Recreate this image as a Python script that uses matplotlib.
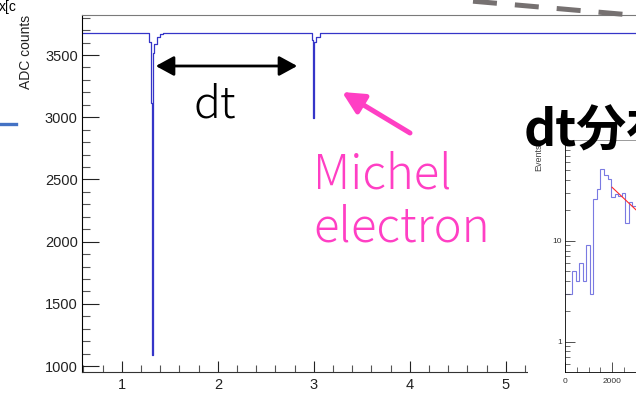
import matplotlib
matplotlib.use('Agg')
import matplotlib.pyplot as plt
from matplotlib.patches import Rectangle, FancyArrowPatch
from matplotlib.lines import Line2D
from matplotlib.ticker import MultipleLocator, FixedLocator, NullFormatter

W, H = 636, 393

# PMT waveform: time [us], ADC counts (steps)
wave_t = [0.585, 1.286, 1.300, 1.311, 1.321, 1.328, 1.335, 1.363, 1.398, 1.432,
          1.600, 2.978, 2.988, 3.002, 3.022, 3.064, 7.500]
wave_adc = [3680, 3607, 3112, 1090, 3112, 3514, 3590, 3647, 3670, 3677,
            3680, 3620, 2993, 3607, 3647, 3680, 3680]
time_ticks = [1, 2, 3, 4, 5]
adc_ticks = [1000, 1500, 2000, 2500, 3000, 3500]

# dt distribution [ns] and counts
dt_edges = [10, 160, 310, 460, 610, 760, 910, 1060, 1210, 1360, 1510,
            1660, 1810, 1960, 2110, 2260, 2410, 2560, 2710, 2860, 3010]
dt_counts = [3, 3, 5, 4, 6, 4, 9, 3, 26, 33, 51, 45, 41, 27, 29, 28, 30, 15, 24, 22]
fit_t = [2000, 3020]
fit_n = [34, 20.3]
dt_ticks = [0, 2000]

ROOT_FONT = ['Liberation Sans', 'DejaVu Sans']
SLIDE_FONT = ['Noto Sans CJK JP', 'DejaVu Sans']
PINK = '#ff3fc4'


def fpos(x, y):
    # pixel (from top-left) -> figure fraction
    return x / W, 1 - y / H


def fbox(x0, y0, x1, y1):
    return [x0 / W, 1 - y1 / H, (x1 - x0) / W, (y1 - y0) / H]


fig = plt.figure(figsize=(W / 100, H / 100), dpi=100)
fig.patch.set_facecolor('white')

# main waveform
ax = fig.add_axes(fbox(82, 15, 700, 372))
ax.plot(wave_t, wave_adc, drawstyle='steps-post', color='#3535c8', lw=0.9)
ax.set_xlim(0.585, 0.585 + 618 / 96)
ax.set_ylim(952, 3822)
ax.yaxis.set_major_locator(FixedLocator(adc_ticks))
ax.yaxis.set_minor_locator(MultipleLocator(100))
ax.xaxis.set_major_locator(FixedLocator(time_ticks))
ax.xaxis.set_minor_locator(FixedLocator([0.6 + 0.2 * i for i in range(24)]))
ax.tick_params(axis='y', which='major', direction='in', length=12, width=0.8, pad=3,
               labelsize=10.5, colors='#222222')
ax.tick_params(axis='y', which='minor', direction='in', length=6, width=0.8, color='#555555')
ax.tick_params(axis='x', which='major', direction='in', length=8, width=0.8, pad=4,
               labelsize=10.5, colors='#222222')
ax.tick_params(axis='x', which='minor', direction='in', length=5, width=0.8, color='#555555')
for lab in ax.get_xticklabels() + ax.get_yticklabels():
    lab.set_family(ROOT_FONT)
ax.spines['right'].set_visible(False)
ax.spines['top'].set_color('#7a7a7a')
ax.spines['left'].set_linewidth(0.8)
ax.spines['bottom'].set_linewidth(0.8)
ax.spines['bottom'].set_color('#333333')
fig.text(*fpos(26, 15), 'ADC counts', rotation=90, ha='center', va='top',
         fontsize=10, family=ROOT_FONT, color='#222222')

# white area of the pasted histogram
fig.add_artist(Rectangle(fpos(528, 393), (W - 528) / W, 353 / H,
                         transform=fig.transFigure, facecolor='white',
                         edgecolor='none', zorder=2))

# dt histogram
ax2 = fig.add_axes(fbox(565, 140, 800, 372), zorder=3)
ax2.stairs(dt_counts, dt_edges, color='#7a7ae2', lw=0.8, baseline=None)
ax2.plot(fit_t, fit_n, color='#ff2a2a', lw=0.8)
ax2.set_yscale('log')
ax2.set_xlim(0, 10000)
ax2.set_ylim(0.5, 100)
ax2.xaxis.set_major_locator(FixedLocator(dt_ticks))
ax2.xaxis.set_minor_locator(MultipleLocator(500))
ax2.yaxis.set_major_locator(FixedLocator([1, 10]))
ax2.yaxis.set_minor_locator(FixedLocator([0.6, 0.7, 0.8, 0.9] + list(range(2, 10))
                                         + list(range(20, 100, 10))))
ax2.yaxis.set_minor_formatter(NullFormatter())
ax2.set_yticklabels(['1', '10'])
ax2.tick_params(which='major', direction='in', length=7, width=0.6, pad=2,
                labelsize=6, colors='#333333')
ax2.tick_params(which='minor', direction='in', length=3.5, width=0.6, color='#555555')
ax2.tick_params(axis='x', which='major', pad=4)
for lab in ax2.get_xticklabels() + ax2.get_yticklabels():
    lab.set_family(ROOT_FONT)
ax2.spines['right'].set_visible(False)
ax2.spines['top'].set_color('#8a8a8a')
for s in ('left', 'bottom', 'top'):
    ax2.spines[s].set_linewidth(0.6)
fig.text(*fpos(539, 144), 'Events', rotation=90, ha='center', va='top',
         fontsize=6.5, family=ROOT_FONT, color='#444444', zorder=3)

# slide annotations
fig.text(*fpos(524, 145), 'dt分布', ha='left', va='baseline', fontsize=36,
         fontweight='bold', family=SLIDE_FONT, color='black', zorder=5)
fig.text(*fpos(193, 117), 'dt', ha='left', va='baseline', fontsize=32,
         fontweight='light', family=SLIDE_FONT, color='black', zorder=5)
fig.text(*fpos(313, 241), 'Michel\nelectron', ha='left', va='baseline',
         fontsize=34, fontweight='light', family=SLIDE_FONT, color=PINK,
         linespacing=1.1, zorder=5)

fig.add_artist(FancyArrowPatch(fpos(153, 66), fpos(300, 66), transform=fig.transFigure,
                               arrowstyle='<|-|>,head_length=11,head_width=6',
                               mutation_scale=1, lw=2, color='black', zorder=5))
fig.add_artist(FancyArrowPatch(fpos(410, 133), fpos(342, 92), transform=fig.transFigure,
                               arrowstyle='-|>,head_length=13,head_width=6.5',
                               mutation_scale=1, lw=3.6, color=PINK,
                               shrinkA=0, shrinkB=0, zorder=5))

# bits of neighbouring slide elements
fig.add_artist(Line2D([473 / W, 700 / W], [1 - 1.2 / H, 1 - 21 / H],
                      transform=fig.transFigure, color='#767171', lw=3.6,
                      dashes=(4.8, 3.6), solid_capstyle='butt', dash_capstyle='butt',
                      zorder=5))
fig.add_artist(Line2D([0, 16 / W], [1 - 123.5 / H] * 2, transform=fig.transFigure,
                      color='#4472c4', lw=2.4, zorder=5))
fig.text(*fpos(-1, 11), 'x[c', ha='left', va='baseline', fontsize=10,
         family=ROOT_FONT, color='black')

fig.savefig('out.png', dpi=100)
